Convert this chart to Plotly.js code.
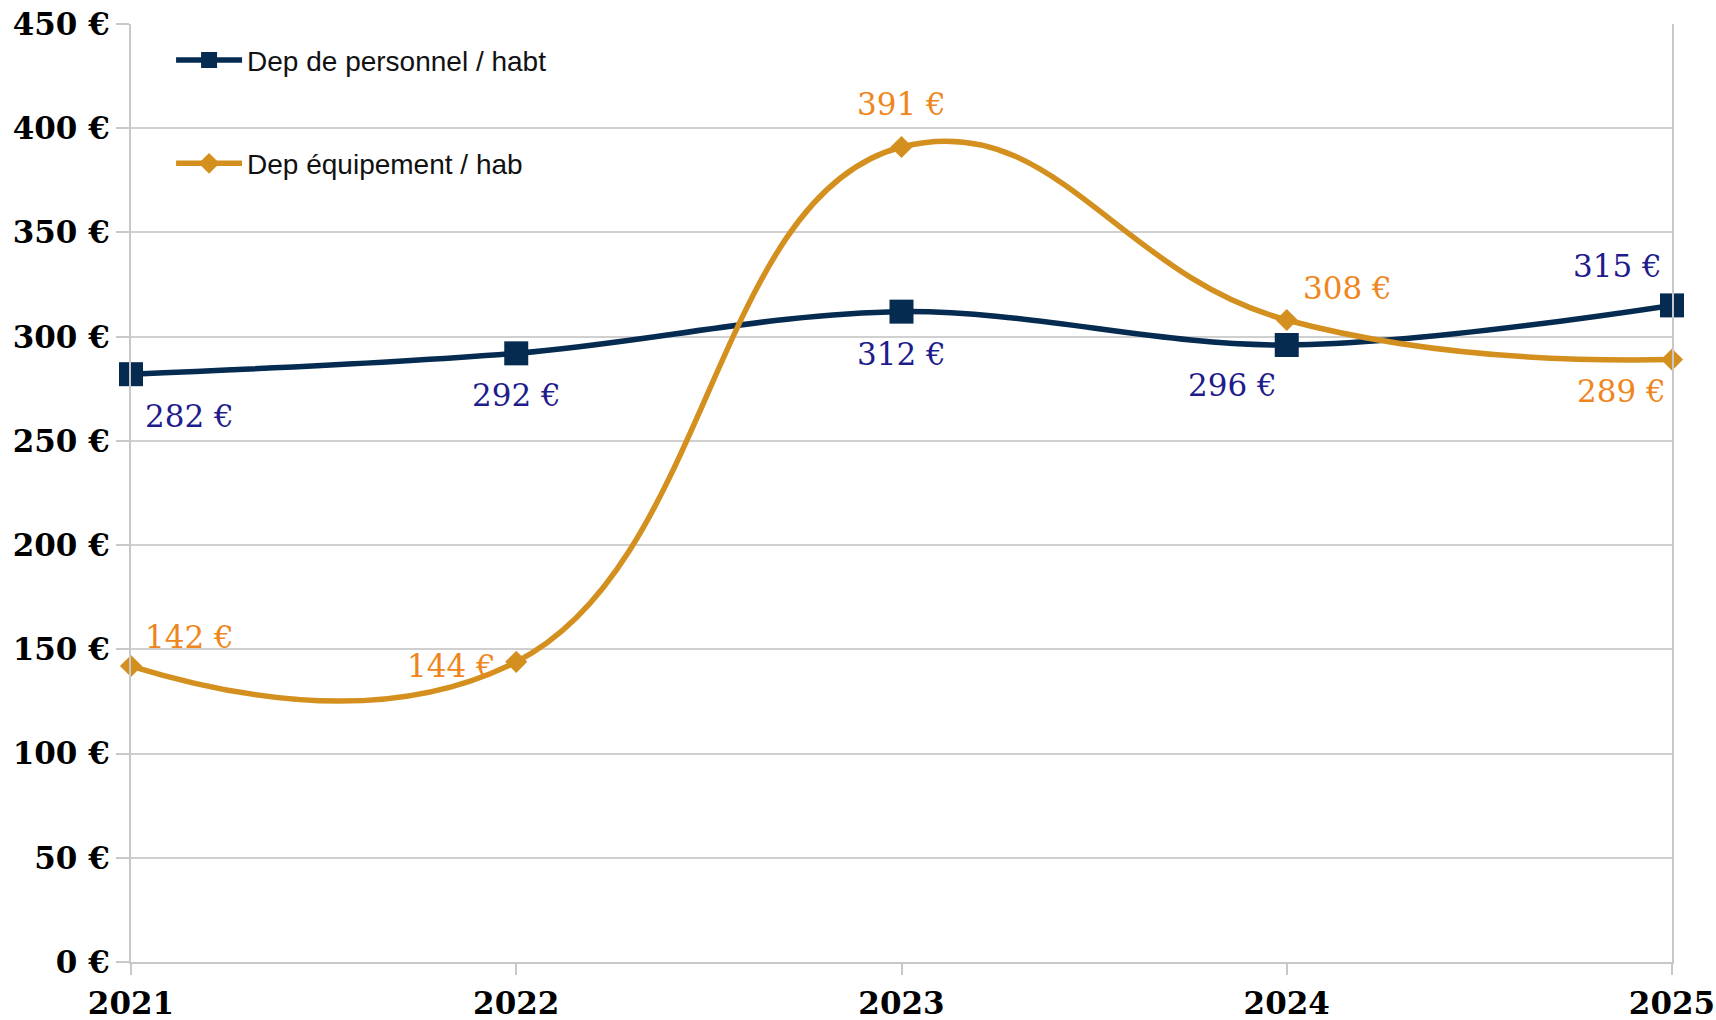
<!DOCTYPE html>
<html>
<head>
<meta charset="utf-8">
<script src="https://cdn.plot.ly/plotly-3.0.1.min.js"></script>
<style>
html,body{margin:0;padding:0;background:#fff;}
#chart{width:1716px;height:1020px;}
</style>
</head>
<body>
<div id="chart"></div>
<script>
const years = [2021, 2022, 2023, 2024, 2025];
const personnel = [282, 292, 312, 296, 315];
const equipement = [142, 144, 391, 308, 289];
const seriesNames = ["Dep de personnel / habt", "Dep équipement / hab"];
const yTicks = [0, 50, 100, 150, 200, 250, 300, 350, 400, 450];

// label placement (style only): [xanchor, xshift, yshift]
const persLabelPos = [["left", 12, -42], ["center", 0, -42], ["center", 0, -42], ["right", -8, -40], ["right", -8, 39]];
const equipLabelPos = [["left", 12, 29], ["right", -18, -4], ["center", 0, 43], ["left", 14, 32], ["right", -4, -31]];

const persColor = "#052b50";
const equipColor = "#d4901f";
const persTextColor = "#1f1c8c";
const equipTextColor = "#ef861d";

const fmt = v => v + " €";

const traces = [
  {
    x: years, y: personnel, name: seriesNames[0], type: "scatter",
    mode: "lines+markers",
    line: {color: persColor, width: 5.5, shape: "spline", smoothing: 1.0},
    marker: {symbol: "square", size: 24, color: persColor},
    cliponaxis: false, legendgroup: "a"
  },
  {
    x: years, y: equipement, name: seriesNames[1], type: "scatter",
    mode: "lines+markers",
    line: {color: equipColor, width: 5.5, shape: "spline", smoothing: 1.3},
    marker: {symbol: "diamond", size: 17, color: equipColor},
    cliponaxis: false, legendgroup: "b"
  }
];

function labels(xs, ys, pos, color) {
  return xs.map((x, i) => ({
    x: x, y: ys[i], xref: "x", yref: "y", text: fmt(ys[i]), showarrow: false,
    xanchor: pos[i][0], yanchor: "middle", xshift: pos[i][1], yshift: pos[i][2],
    font: {family: "DejaVu Serif", size: 31, color: color}
  }));
}

const annotations = labels(years, personnel, persLabelPos, persTextColor)
  .concat(labels(years, equipement, equipLabelPos, equipTextColor));

const layout = {
  width: 1716, height: 1020,
  margin: {l: 131, r: 44, t: 24, b: 58, pad: 0},
  paper_bgcolor: "#ffffff", plot_bgcolor: "#ffffff",
  showlegend: true,
  annotations: annotations,
  legend: {
    x: 0.026, y: 0.988, xanchor: "left", yanchor: "top",
    font: {family: "Liberation Sans", size: 28, color: "#111111"},
    bgcolor: "rgba(0,0,0,0)", borderwidth: 0,
    traceorder: "grouped", tracegroupgap: 64, itemwidth: 66
  },
  xaxis: {
    range: [2021, 2025], tickvals: years, ticktext: years.map(String),
    showgrid: false, zeroline: false,
    showline: true, linecolor: "#c8c8c8", linewidth: 2,
    ticks: "outside", ticklen: 11, tickwidth: 2, tickcolor: "#c8c8c8",
    tickfont: {family: "DejaVu Serif", size: 31, color: "#000000", weight: "bold"},
    ticklabelstandoff: 2
  },
  yaxis: {
    range: [0, 450], tickvals: yTicks, ticktext: yTicks.map(fmt),
    showgrid: true, gridcolor: "#d0d0d0", gridwidth: 2, zeroline: false,
    showline: true, mirror: true, linecolor: "#c8c8c8", linewidth: 2,
    ticks: "outside", ticklen: 13, tickwidth: 2, tickcolor: "#c8c8c8",
    tickfont: {family: "DejaVu Serif", size: 31, color: "#000000", weight: "bold"},
    ticklabelstandoff: 0
  }
};

Plotly.newPlot("chart", traces, layout, {displayModeBar: false, staticPlot: true});
</script>
</body>
</html>
